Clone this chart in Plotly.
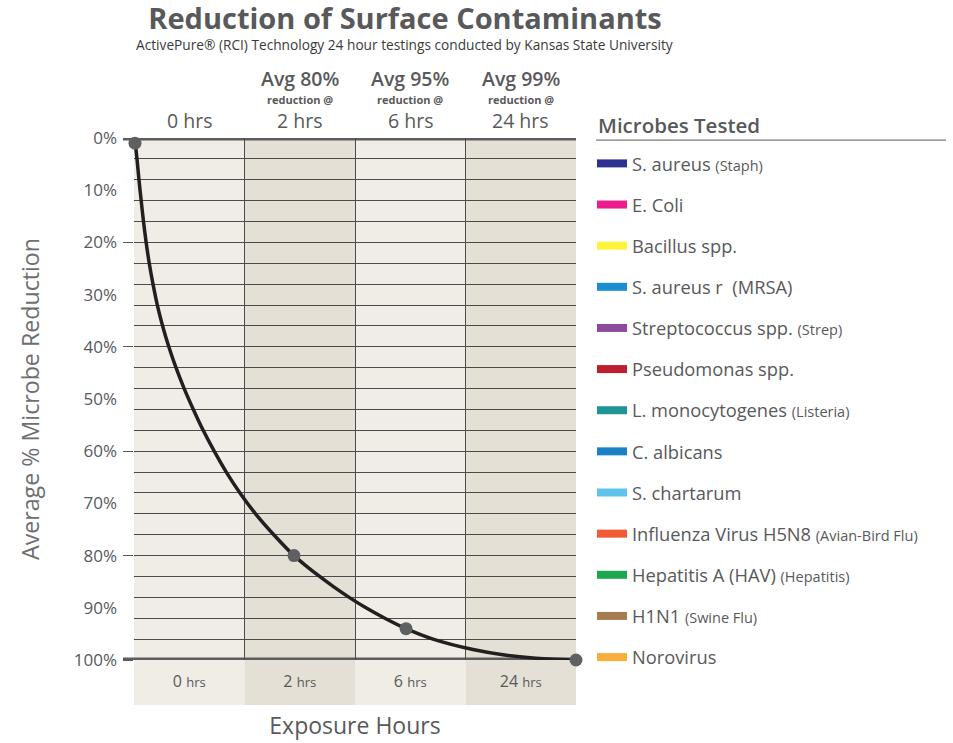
import plotly.graph_objects as go

# ---------------- data ----------------
hours = ["0", "2", "6", "24"]
avg_pct = [None, "80%", "95%", "99%"]
col_fill = ["#f0ece6", "#e4e0d5", "#f0ece6", "#e4e0d5"]

# curve (x in column units 0..4, y in % reduction)
curve_x = [0.009, 0.027, 0.045, 0.065, 0.086, 0.110, 0.138, 0.172, 0.211, 0.259,
           0.315, 0.380, 0.454, 0.537, 0.626, 0.726, 0.835, 0.959, 1.100, 1.265,
           1.448, 1.560, 1.680, 1.808, 1.947, 2.099, 2.270, 2.462, 2.706, 3.068,
           3.339, 3.611, 4.0]
curve_y = [0.5, 4, 8, 12, 16, 20, 24, 28, 32, 36,
           40, 44, 48, 52, 56, 60, 64, 68, 72, 76,
           80, 82, 84, 86, 88, 90, 92, 94, 96, 98,
           99, 99.6, 100]

dot_x = [0.009, 1.448, 2.462, 4.0]
dot_y = [1, 80, 94, 100]

y_ticks = list(range(0, 101, 10))
y_ticktext = [f"{v}%" for v in y_ticks]

microbes = ["S. aureus", "E. Coli", "Bacillus spp.", "S. aureus r  (MRSA)",
            "Streptococcus spp.", "Pseudomonas spp.", "L. monocytogenes",
            "C. albicans", "S. chartarum", "Influenza Virus H5N8",
            "Hepatitis A (HAV)", "H1N1", "Norovirus"]
notes = ["(Staph)", "", "", "", "(Strep)", "", "(Listeria)", "", "",
         "(Avian-Bird Flu)", "(Hepatitis)", "(Swine Flu)", ""]
colors = ["#2e3192", "#ec1c8c", "#fff23a", "#1b8dd0", "#8e4b9e", "#be1e2d",
          "#1f9497", "#1c80c6", "#5ec4ec", "#f05a35", "#1ea54f", "#a57b52",
          "#f9ae3c"]

FONT = "Open Sans"
GRAY = "#58595b"
GRID = "#4b4b4b"

fig = go.Figure()

fig.add_trace(go.Scatter(
    x=curve_x, y=curve_y, mode="lines",
    line=dict(color="#231f20", width=3.5, shape="spline", smoothing=0.8),
    cliponaxis=False, showlegend=False, hoverinfo="skip"))

fig.add_trace(go.Scatter(
    x=dot_x, y=dot_y, mode="markers", yaxis="y2",
    marker=dict(color="#5f6062", size=13),
    cliponaxis=False, showlegend=False, hoverinfo="skip"))

for i, (m, n, c) in enumerate(zip(microbes, notes, colors)):
    label = m + (f" <span style='font-size:14.5px'>{n}</span>" if n else "")
    fig.add_trace(go.Scatter(
        x=[None], y=[None], mode="lines", name=label,
        line=dict(color=c, width=8), legendgroup=f"g{i}"))

shapes = []
for i, fc in enumerate(col_fill):
    shapes.append(dict(type="rect", xref="x", yref="paper", x0=i, x1=i + 1,
                       y0=-0.086, y1=1, fillcolor=fc, line=dict(width=0),
                       layer="below"))
for yv in (0, 100):
    shapes.append(dict(type="line", xref="paper", yref="y", x0=-0.025, x1=1,
                       y0=yv, y1=yv, line=dict(color="#5d5d5f", width=5),
                       layer="between"))
shapes.append(dict(type="line", xref="paper", yref="paper", x0=1.0455, x1=1.837,
                   y0=0.996, y1=0.996, line=dict(color=GRAY, width=1)))

annotations = []
for i, h in enumerate(hours):
    annotations.append(dict(x=i + 0.5, y=1, xref="x", yref="paper",
                            text=f"{h} hrs", showarrow=False, yanchor="middle",
                            yshift=18, font=dict(size=19.5, color=GRAY, family=FONT)))
    if avg_pct[i]:
        annotations.append(dict(x=i + 0.5, y=1, xref="x", yref="paper",
                                text=f"Avg {avg_pct[i]}", showarrow=False,
                                yanchor="middle", yshift=60,
                                font=dict(size=19.5, color=GRAY, family=FONT, weight=600)))
        annotations.append(dict(x=i + 0.5, y=1, xref="x", yref="paper",
                                text="reduction @", showarrow=False,
                                yanchor="middle", yshift=39,
                                font=dict(size=11, color=GRAY, family=FONT, weight="bold")))

annotations.append(dict(x=0.613, y=1.180, xref="paper", yref="paper",
                        text="ActivePure® (RCI) Technology 24 hour testings conducted by Kansas State University",
                        showarrow=False, yanchor="middle", xanchor="center",
                        font=dict(size=13.7, color="#3a3a3a", family=FONT)))
annotations.append(dict(x=1.0455, y=1.024, xref="paper", yref="paper",
                        text="Microbes Tested", showarrow=False, xanchor="left",
                        yanchor="middle",
                        font=dict(size=20.5, color=GRAY, family=FONT, weight=600)))

fig.update_layout(
    width=953, height=743,
    margin=dict(l=134, r=377, t=138, b=83, autoexpand=False),
    paper_bgcolor="white", plot_bgcolor="rgba(0,0,0,0)",
    font=dict(family=FONT, color=GRAY),
    title=dict(text="Reduction of Surface Contaminants", x=0.425, xref="container",
               xanchor="center", y=0.975, yref="container", yanchor="middle",
               font=dict(size=29, color=GRAY, family=FONT, weight="bold")),
    xaxis=dict(range=[0, 4], tickvals=[i + 0.5 for i in range(4)],
               ticktext=[f"{h} <span style='font-size:13px'>hrs</span>" for h in hours],
               ticks="", showgrid=False, zeroline=False, showline=False,
               automargin=False,
               tickfont=dict(size=16, color=GRAY), ticklabelstandoff=10,
               minor=dict(tick0=0, dtick=1, showgrid=True, gridcolor=GRID, gridwidth=1, ticks=""),
               title=dict(text="Exposure Hours", font=dict(size=23, color=GRAY), standoff=26)),
    yaxis=dict(range=[100, 0], tickvals=y_ticks, ticktext=y_ticktext, ticks="",
               showgrid=False, zeroline=False, showline=False, automargin=False,
               tickfont=dict(size=17, color=GRAY), ticklabelstandoff=16,
               title=dict(text="Average % Microbe Reduction",
                          font=dict(size=23.2, color="#6d6e71"), standoff=27)),
    yaxis2=dict(range=[100, 0], overlaying="y", side="left", tickmode="linear",
                tick0=0, dtick=20, ticks="outside", ticklen=10, tickcolor=GRAY,
                tickwidth=1, showticklabels=False, showgrid=True, gridcolor=GRID,
                gridwidth=1, zeroline=False, showline=False, automargin=False,
                minor=dict(tick0=0, dtick=4, showgrid=True, gridcolor=GRID, gridwidth=1, ticks="")),
    legend=dict(x=1.0362, y=0.9866, xanchor="left", yanchor="top",
                font=dict(size=18.3, color=GRAY, family=FONT),
                bgcolor="rgba(0,0,0,0)", tracegroupgap=14.35, traceorder="grouped",
                maxheight=720),
    shapes=shapes, annotations=annotations,
)

fig.write_html("out.html", config={"displayModeBar": False},
               post_script="document.body.style.margin='0px';")
